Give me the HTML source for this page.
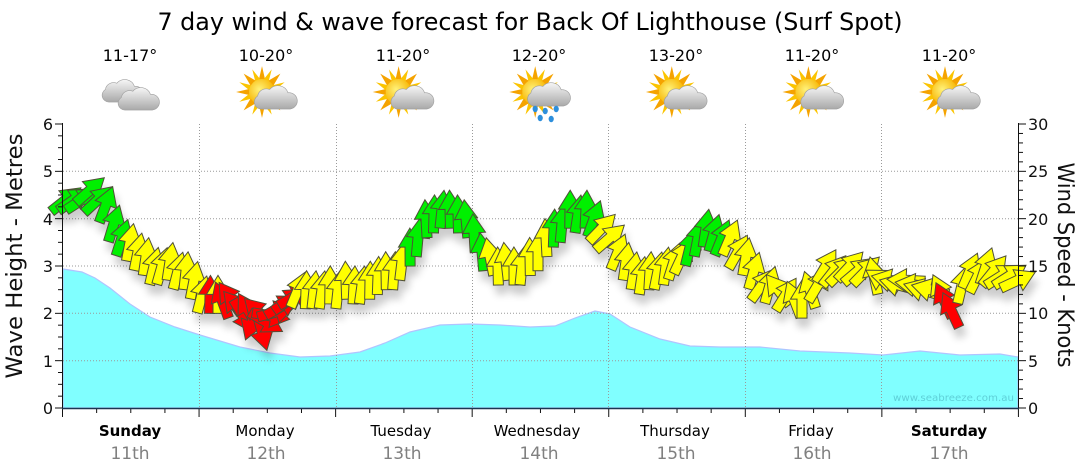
<!DOCTYPE html>
<html><head><meta charset="utf-8">
<style>
html,body{margin:0;padding:0;background:#fff;width:1080px;height:475px;overflow:hidden}
svg{display:block}
text{font-family:"DejaVu Sans","Liberation Sans",sans-serif}
</style></head><body>
<svg id="s" width="1080" height="475" viewBox="0 0 1080 475" xmlns="http://www.w3.org/2000/svg">
<defs>
<filter id="sh" x="-5%" y="-20%" width="110%" height="160%">
<feGaussianBlur in="SourceAlpha" stdDeviation="4"/>
<feOffset dx="3" dy="9" result="o"/>
<feComponentTransfer><feFuncA type="linear" slope="0.2"/></feComponentTransfer>
<feMerge><feMergeNode/><feMergeNode in="SourceGraphic"/></feMerge>
</filter>
<linearGradient id="cg" x1="0" y1="0" x2="0" y2="1">
<stop offset="0" stop-color="#f6f6f6"/><stop offset="1" stop-color="#a9a9a9"/>
</linearGradient>
<radialGradient id="sg" cx="0.4" cy="0.4" r="0.6">
<stop offset="0" stop-color="#fff27a"/><stop offset="1" stop-color="#f7b400"/>
</radialGradient>
<symbol id="cloud" viewBox="0 0 40 24" overflow="visible">
<path d="M7,24 A6.5,6.5 0 0 1 4,12 A8,8 0 0 1 15,6 A10,10 0 0 1 32,9 A7.5,7.5 0 0 1 34,24 Z" fill="url(#cg)" stroke="#a0a0a0" stroke-width="0.6"/>
</symbol>
<symbol id="sun" viewBox="-25 -25 50 50" overflow="visible">
<g fill="#f5a300">
<polygon points="0,-24 3,-11 -3,-11"/><polygon points="0,24 3,11 -3,11"/>
<polygon points="-24,0 -11,3 -11,-3"/><polygon points="24,0 11,3 11,-3"/>
<polygon points="17,-17 10,-5 5,-10"/><polygon points="-17,-17 -10,-5 -5,-10"/>
<polygon points="17,17 10,5 5,10"/><polygon points="-17,17 -10,5 -5,10"/>
<polygon points="9,-21 6,-9 1,-11" fill="#fbc400"/><polygon points="-9,-21 -6,-9 -1,-11" fill="#fbc400"/>
<polygon points="21,-9 9,-6 11,-1" fill="#fbc400"/><polygon points="-21,-9 -9,-6 -11,-1" fill="#fbc400"/>
<polygon points="21,9 9,6 11,1" fill="#fbc400"/><polygon points="-21,9 -9,6 -11,1" fill="#fbc400"/>
<polygon points="9,21 6,9 1,11" fill="#fbc400"/><polygon points="-9,21 -6,9 -1,11" fill="#fbc400"/>
</g>
<circle r="12" fill="url(#sg)"/>
</symbol>
</defs>

<text x="530" y="30" font-size="24" text-anchor="middle" textLength="745" lengthAdjust="spacingAndGlyphs" fill="#000">7 day wind &amp; wave forecast for Back Of Lighthouse (Surf Spot)</text>

<g font-size="16" text-anchor="middle" fill="#000">
<text x="130" y="61">11-17°</text>
<text x="266" y="61">10-20°</text>
<text x="403" y="61">11-20°</text>
<text x="539" y="61">12-20°</text>
<text x="676" y="61">13-20°</text>
<text x="812" y="61">11-20°</text>
<text x="949" y="61">11-20°</text>
</g>

<use href="#cloud" x="101" y="77" width="42" height="25"/>
<use href="#cloud" x="117" y="85" width="42" height="25"/>
<g id="icons"></g>

<path id="wave" fill="#80ffff" stroke="#b0c4ff" stroke-width="1.2" d=""/>

<g stroke="#9a9a9a" stroke-width="1" stroke-dasharray="1,2" fill="none">
<line x1="63" y1="171.3" x2="1018" y2="171.3"/>
<line x1="63" y1="218.7" x2="1018" y2="218.7"/>
<line x1="63" y1="266" x2="1018" y2="266"/>
<line x1="63" y1="313.3" x2="1018" y2="313.3"/>
<line x1="63" y1="360.7" x2="1018" y2="360.7"/>
<line x1="199.5" y1="124" x2="199.5" y2="408"/>
<line x1="336.5" y1="124" x2="336.5" y2="408"/>
<line x1="472.5" y1="124" x2="472.5" y2="408"/>
<line x1="608.5" y1="124" x2="608.5" y2="408"/>
<line x1="745.5" y1="124" x2="745.5" y2="408"/>
<line x1="881.5" y1="124" x2="881.5" y2="408"/>
</g>

<text x="1014" y="401" font-size="10" text-anchor="end" fill="#5fd0d8" textLength="121" lengthAdjust="spacingAndGlyphs">www.seabreeze.com.au</text>

<g id="arrows" filter="url(#sh)" stroke="#4f4f38" stroke-width="1" stroke-linejoin="miter"></g>

<g id="axes" stroke="#111" stroke-width="1" fill="none"></g>
<line x1="62" y1="408.5" x2="1019" y2="408.5" stroke="#1b3550" stroke-width="1.5"/>

<g font-size="16" fill="#111" text-anchor="end">
<text x="53" y="130">6</text>
<text x="53" y="177">5</text>
<text x="53" y="225">4</text>
<text x="53" y="272">3</text>
<text x="53" y="319">2</text>
<text x="53" y="367">1</text>
<text x="53" y="414">0</text>
</g>
<g font-size="16" fill="#111" text-anchor="start">
<text x="1028" y="130">30</text>
<text x="1028" y="177">25</text>
<text x="1028" y="225">20</text>
<text x="1028" y="272">15</text>
<text x="1028" y="319">10</text>
<text x="1028" y="367">5</text>
<text x="1028" y="414">0</text>
</g>

<text transform="translate(22,256) rotate(-90)" font-size="22" text-anchor="middle" textLength="245" lengthAdjust="spacingAndGlyphs" fill="#111">Wave Height - Metres</text>
<text transform="translate(1058,265) rotate(90)" font-size="22" text-anchor="middle" textLength="205" lengthAdjust="spacingAndGlyphs" fill="#111">Wind Speed - Knots</text>

<g font-size="15" text-anchor="middle" fill="#000">
<text x="130" y="436" font-weight="bold">Sunday</text>
<text x="265" y="436">Monday</text>
<text x="401" y="436">Tuesday</text>
<text x="537" y="436">Wednesday</text>
<text x="675" y="436">Thursday</text>
<text x="811" y="436">Friday</text>
<text x="949" y="436" font-weight="bold">Saturday</text>
</g>
<g font-size="17" text-anchor="middle" fill="#808080">
<text x="130" y="459">11th</text>
<text x="266" y="459">12th</text>
<text x="402" y="459">13th</text>
<text x="539" y="459">14th</text>
<text x="676" y="459">15th</text>
<text x="812" y="459">16th</text>
<text x="949" y="459">17th</text>
</g>
</svg>
<script>
(function(){
var NS="http://www.w3.org/2000/svg";
function el(n,a,p){var e=document.createElementNS(NS,n);for(var k in a)e.setAttribute(k,a[k]);if(p)p.appendChild(e);return e;}
function lin(pts,x){if(x<=pts[0][0])return pts[0][1];for(var i=1;i<pts.length;i++){if(x<=pts[i][0]){var a=pts[i-1],b=pts[i];return a[1]+(b[1]-a[1])*(x-a[0])/(b[0]-a[0]);}}return pts[pts.length-1][1];}

var W=[[63,269],[82,272],[95,278],[110,288],[130,304],[150,317],[175,327],[200,335],[240,347],[270,353],[300,357],[330,356],[360,352],[385,343],[410,332],[440,325],[470,324],[500,325],[530,327],[555,326],[575,318],[595,311],[610,314],[630,327],[660,339],[690,346],[720,347],[760,347],[800,351],[850,353],[883,355],[920,351],[960,355],[1000,354],[1018,357]];
var d="M63,408 ";for(var i=0;i<W.length;i++)d+="L"+W[i][0]+","+W[i][1]+" ";d+="L1018,408 Z";
document.getElementById("wave").setAttribute("d",d);

var ax=document.getElementById("axes");
el("line",{x1:62.5,y1:123,x2:62.5,y2:417},ax);
el("line",{x1:1018.5,y1:123,x2:1018.5,y2:409},ax);
for(var m=0;m<=24;m++){var y=408-m*11.833;el("line",{x1:(m%4==0?55:58),y1:y,x2:62.5,y2:y},ax);}
for(var k=0;k<=30;k++){var y2=408-k*9.467;el("line",{x1:1018.5,y1:y2,x2:(k%5==0?1026:1023),y2:y2},ax);}
for(var q=0;q<=28;q++){var x=62.5+q*34.14;el("line",{x1:x,y1:408,x2:x,y2:(q%4==0?417:413)},ax);}

var ic=document.getElementById("icons");
var C=[131.3,268,404.6,541.2,677.8,814.4,951];
function sunCloud(cx,rain){
 el("use",{href:"#sun",x:cx-6-27,y:92-27,width:54,height:54},ic);
 el("use",{href:"#cloud",x:cx-15,y:rain?80:83,width:44,height:26},ic);
 if(rain){var dr=[[-6,109],[4,111],[15,109],[-1,118],[10,119]];
  for(var j=0;j<dr.length;j++){el("ellipse",{cx:cx+dr[j][0],cy:dr[j][1],rx:2.6,ry:3.2,fill:"#2d8fdc"},ic);}}
}
for(var i2=1;i2<7;i2++)sunCloud(C[i2],i2==3);

var Y=[[63,205],[75,197],[90,192],[100,198],[110,214],[120,232],[135,252],[150,262],[165,262],[180,268],[195,282],[206,300],[215,294],[298,292],[320,288],[340,287],[360,282],[380,276],[395,268],[405,255],[418,235],[430,215],[445,205],[460,215],[472,228],[482,250],[495,262],[510,265],[525,262],[538,250],[548,235],[558,220],[570,212],[590,212],[603,228],[615,250],[630,268],[650,272],[668,268],[682,255],[695,240],[708,228],[720,232],[735,245],[750,265],[765,285],[785,295],[800,297],[815,288],[825,270],[840,266],[855,270],[870,272],[890,280],[910,283],[930,292],[958,285],[972,272],[990,270],[1005,276],[1018,278]];
var A=[[63,55],[95,50],[108,20],[120,12],[200,10],[213,0],[220,0],[297,25],[305,5],[340,2],[400,2],[445,0],[470,-3],[485,-12],[500,-4],[520,0],[560,0],[590,8],[600,35],[610,50],[620,15],[640,3],[660,8],[680,20],[700,10],[720,15],[735,30],[750,8],[765,35],[780,-20],[790,30],[800,-40],[812,20],[825,35],[845,40],[865,55],[880,-60],[890,-75],[910,-85],[930,-75],[958,0],[970,25],[985,20],[1000,50],[1018,65]];
function col(x){
 if(x<=123||(x>=405&&x<=482)||(x>=548&&x<=600)||(x>=686&&x<=725))return "#00f000";
 if(x>=203&&x<=210)return "#ff0000";
 return "#ffff00";
}
var JY=[0,-2,2,4,-2,2,-3,1,3,-1];
var JA=[0,-3,2,5,-2,4,-4,1,6,-1];
var L=[];var c=0;
for(var x=66;x<=1020;x+=8){
 c++;
 if(x>=222&&x<=296)continue;
 if(x>=938&&x<=954)continue;
 var a=lin(A,x)+JA[c%10];
 if(x>775&&x<815)a+=((c%2)?25:-25);
 var yy=lin(Y,x)+JY[c%10];
 yy=408-Math.round((408-yy)/(9.467/2))*(9.467/2);
 L.push([x,yy,a,col(x)]);
}
var R=[[222,300,-20],[230,298,-35],[236,306,-40],[243,316,150],[248,310,-30],[252,322,200],[258,312,-45],[262,332,165],[266,322,120],[271,316,100],[276,312,75],[282,306,60],[289,300,55],[295,296,60]];
for(var r=0;r<R.length;r++)L.push([R[r][0],R[r][1],R[r][2],"#ff0000"]);
L.push([941,292,-25,"#ffff00"]);
L.push([944,300,-25,"#ff0000"]);
L.push([951,310,-25,"#ff0000"]);
L.sort(function(p,q){return p[0]-q[0];});
var g=document.getElementById("arrows");
var AP="M0,-19 L11.5,0 L5,0 L5,19 L-5,19 L-5,0 L-11.5,0 Z";
for(var n=0;n<L.length;n++){
 el("path",{d:AP,fill:L[n][3],transform:"translate("+L[n][0]+","+L[n][1].toFixed(1)+") rotate("+L[n][2].toFixed(1)+")"},g);
}
})();
</script>
</body></html>
